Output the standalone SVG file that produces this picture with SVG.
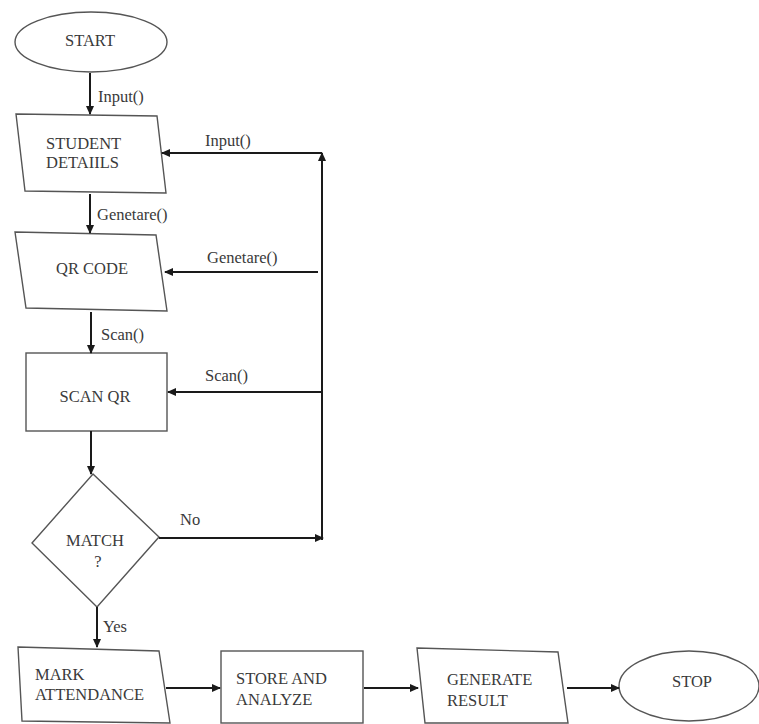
<svg xmlns="http://www.w3.org/2000/svg" width="759" height="724" viewBox="0 0 759 724" font-family="Liberation Serif, DejaVu Serif, serif">
<defs>
<marker id="ah" markerUnits="userSpaceOnUse" markerWidth="9" markerHeight="8" refX="8" refY="4" orient="auto">
<path d="M0,0 L9,4 L0,8 z" fill="#1a1a1a"/>
</marker>
<style>
.shape{fill:#fff;stroke:#555;stroke-width:1.4}
text{font-family:"Liberation Serif",serif}
.t{font-size:16.5px;fill:#3a3a3a}
.m{text-anchor:middle}
.conn path{fill:none;stroke:#1a1a1a;stroke-width:2}
</style>
</defs>
<rect width="759" height="724" fill="#fff"/>
<g id="start"><ellipse class="shape" cx="91" cy="42" rx="76" ry="30"/><text class="t m" x="90" y="46">START</text></g>
<g id="student"><polygon class="shape" points="16,114 157,116 166,193 25,191"/><text class="t" x="46" y="149">STUDENT</text><text class="t" x="46" y="168">DETAIILS</text></g>
<g id="qrcode"><polygon class="shape" points="15,232 156,235 167,311 26,308"/><text class="t m" x="92" y="274">QR CODE</text></g>
<g id="scanqr"><rect class="shape" x="26" y="353" width="141" height="78"/><text class="t m" x="95" y="402">SCAN QR</text></g>
<g id="match"><polygon class="shape" points="93,474 159,537 97,607 32,543"/><text class="t m" x="95" y="546">MATCH</text><text class="t m" x="98" y="567">?</text></g>
<g id="mark"><polygon class="shape" points="18,647 159,651 170,723 22,721"/><text class="t" x="35" y="680">MARK</text><text class="t" x="35" y="700">ATTENDANCE</text></g>
<g id="store"><rect class="shape" x="221" y="651" width="142" height="72"/><text class="t" x="236" y="684">STORE AND</text><text class="t" x="236" y="705">ANALYZE</text></g>
<g id="generate"><polygon class="shape" points="417,648 558,652 568,723 425,723"/><text class="t" x="447" y="685">GENERATE</text><text class="t" x="447" y="706">RESULT</text></g>
<g id="stop"><ellipse class="shape" cx="689" cy="686" rx="70" ry="35"/><text class="t m" x="692" y="687">STOP</text></g>
<g id="connectors" class="conn">
<path d="M90 73 V114" marker-end="url(#ah)"/>
<path d="M90 194 V233" marker-end="url(#ah)"/>
<path d="M91 312 V353" marker-end="url(#ah)"/>
<path d="M91 431 V474" marker-end="url(#ah)"/>
<path d="M97 607 V647" marker-end="url(#ah)"/>
<path d="M159 538 H323" marker-end="url(#ah)"/>
<path d="M322 540 V153" marker-end="url(#ah)"/>
<path d="M322 153 H162" marker-end="url(#ah)"/>
<path d="M318 272 H165" marker-end="url(#ah)"/>
<path d="M322 392 H168" marker-end="url(#ah)"/>
<path d="M166 688 H220" marker-end="url(#ah)"/>
<path d="M364 688 H418" marker-end="url(#ah)"/>
<path d="M567 688 H619" marker-end="url(#ah)"/>
<text class="t" x="98" y="102">Input()</text>
<text class="t" x="205" y="146">Input()</text>
<text class="t" x="97" y="220">Genetare()</text>
<text class="t" x="207" y="263">Genetare()</text>
<text class="t" x="101" y="340">Scan()</text>
<text class="t" x="205" y="381">Scan()</text>
<text class="t" x="180" y="525">No</text>
<text class="t" x="103" y="632">Yes</text>
</g>
</svg>
